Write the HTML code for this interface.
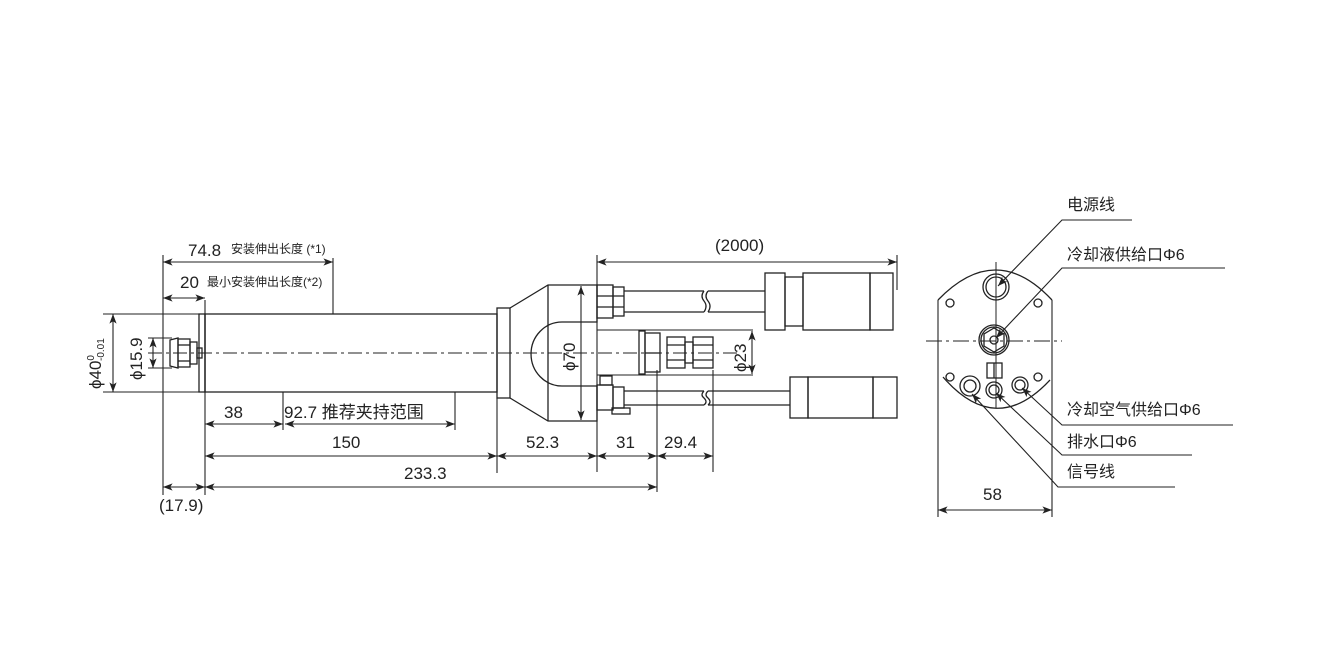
<!DOCTYPE html>
<html><head><meta charset="utf-8"><style>
html,body{margin:0;padding:0;background:#fff;}
svg{display:block;}
text{font-family:"Liberation Sans","Noto Sans CJK SC",sans-serif;fill:#222;}
</style></head><body>
<svg width="1320" height="660" viewBox="0 0 1320 660" xmlns="http://www.w3.org/2000/svg">
<defs>
<marker id="a" viewBox="0 0 12 10" refX="12" refY="5" markerWidth="12" markerHeight="8" orient="auto-start-reverse" markerUnits="userSpaceOnUse"><path d="M0,0.5 L12,5 L0,9.5 L3,5 Z" fill="#222"/></marker>
</defs>
<g stroke="#222" stroke-width="1.3" fill="none">
<line x1="148" y1="353" x2="740" y2="353" stroke-dasharray="14,4,3,4" stroke-width="1"/>
<path d="M170 340 L178 338 L178 368 L170 366 Z"/>
<rect x="178" y="339" width="12" height="28"/>
<rect x="190" y="342" width="7" height="22"/>
<rect x="197" y="348" width="5" height="10"/>
<line x1="178" y1="345" x2="190" y2="345"/><line x1="178" y1="361" x2="190" y2="361"/>
<rect x="199" y="314" width="6" height="78"/>
<rect x="205" y="314" width="292" height="78"/>
<rect x="497" y="308" width="13" height="90"/>
<path d="M510 308 L548 285 L597 285 L597 322 L562 322 A30 31 0 0 0 562 386 L597 386 L597 421 L548 421 L510 398"/>
<line x1="548" y1="285" x2="548" y2="421"/>
<rect x="597" y="285" width="16" height="33"/><rect x="613" y="287" width="11" height="29"/>
<line x1="597" y1="296" x2="624" y2="296"/><line x1="597" y1="307" x2="624" y2="307"/>
<line x1="624" y1="291" x2="704" y2="291"/><line x1="624" y1="312" x2="704" y2="312"/>
<path d="M704 291 q-4 5 0 10 q4 5 0 11 M708 291 q-4 5 0 10 q4 5 0 11"/>
<line x1="708" y1="291" x2="765" y2="291"/><line x1="708" y1="312" x2="765" y2="312"/>
<rect x="765" y="273" width="20" height="57"/><rect x="785" y="277" width="18" height="49"/>
<rect x="803" y="273" width="67" height="57"/><rect x="870" y="273" width="23" height="57"/>
<line x1="597" y1="330" x2="753" y2="330" stroke-width="1"/><line x1="597" y1="375" x2="753" y2="375" stroke-width="1"/>
<rect x="639" y="331" width="6" height="43"/>
<rect x="645" y="333" width="15" height="39"/><line x1="645" y1="353" x2="660" y2="353"/>
<rect x="667" y="337" width="18" height="31"/><line x1="667" y1="345" x2="685" y2="345"/><line x1="667" y1="360" x2="685" y2="360"/>
<rect x="685" y="342" width="8" height="21"/>
<rect x="693" y="337" width="20" height="31"/><line x1="693" y1="345" x2="713" y2="345"/><line x1="693" y1="360" x2="713" y2="360"/>
<rect x="600" y="376" width="12" height="9"/>
<rect x="597" y="385" width="16" height="25"/><rect x="613" y="387" width="11" height="21"/>
<rect x="612" y="408" width="18" height="6"/>
<line x1="624" y1="391" x2="704" y2="391"/><line x1="624" y1="405" x2="704" y2="405"/>
<path d="M704 391 q-4 4 0 7 q4 4 0 7 M708 391 q-4 4 0 7 q4 4 0 7"/>
<line x1="708" y1="391" x2="790" y2="391"/><line x1="708" y1="405" x2="790" y2="405"/>
<rect x="790" y="377" width="18" height="41"/><rect x="808" y="377" width="65" height="41"/><rect x="873" y="377" width="24" height="41"/>
</g>
<g stroke="#222" stroke-width="1.1" fill="none">
<line x1="163" y1="255" x2="163" y2="495"/>
<line x1="333" y1="258" x2="333" y2="314"/>
<line x1="205" y1="300" x2="205" y2="495"/>
<line x1="163" y1="262" x2="333" y2="262" marker-start="url(#a)" marker-end="url(#a)"/>
<line x1="163" y1="298" x2="205" y2="298" marker-start="url(#a)" marker-end="url(#a)"/>
<line x1="103" y1="314" x2="199" y2="314"/><line x1="103" y1="392" x2="199" y2="392"/>
<line x1="113" y1="314" x2="113" y2="392" marker-start="url(#a)" marker-end="url(#a)"/>
<line x1="148" y1="338" x2="172" y2="338"/><line x1="148" y1="368" x2="172" y2="368"/>
<line x1="153" y1="338" x2="153" y2="368" marker-start="url(#a)" marker-end="url(#a)"/>
<line x1="283" y1="392" x2="283" y2="430"/><line x1="455" y1="392" x2="455" y2="430"/>
<line x1="205" y1="424" x2="283" y2="424" marker-start="url(#a)" marker-end="url(#a)"/>
<line x1="285" y1="424" x2="455" y2="424" marker-start="url(#a)" marker-end="url(#a)"/>
<line x1="497" y1="398" x2="497" y2="473"/>
<line x1="205" y1="456" x2="497" y2="456" marker-start="url(#a)" marker-end="url(#a)"/>
<line x1="497" y1="456" x2="597" y2="456" marker-start="url(#a)" marker-end="url(#a)"/>
<line x1="597" y1="255" x2="597" y2="472"/>
<line x1="657" y1="370" x2="657" y2="492"/><line x1="713" y1="370" x2="713" y2="472"/>
<line x1="597" y1="456" x2="657" y2="456" marker-start="url(#a)" marker-end="url(#a)"/>
<line x1="657" y1="456" x2="713" y2="456" marker-start="url(#a)" marker-end="url(#a)"/>
<line x1="205" y1="487" x2="657" y2="487" marker-start="url(#a)" marker-end="url(#a)"/>
<line x1="163" y1="487" x2="205" y2="487" marker-start="url(#a)" marker-end="url(#a)"/>
<line x1="581" y1="286" x2="581" y2="420" marker-start="url(#a)" marker-end="url(#a)"/>
<line x1="752" y1="331" x2="752" y2="374" marker-start="url(#a)" marker-end="url(#a)"/>
<line x1="897" y1="255" x2="897" y2="290"/>
<line x1="597" y1="262" x2="897" y2="262" marker-start="url(#a)" marker-end="url(#a)"/>
</g>
<g font-size="17">
<text x="188" y="256">74.8</text><text x="231" y="253" font-size="12">安装伸出长度 (*1)</text>
<text x="180" y="288">20</text><text x="207" y="286" font-size="12">最小安装伸出长度(*2)</text>
<text x="224" y="418">38</text>
<text x="284" y="418">92.7 推荐夹持范围</text>
<text x="332" y="448">150</text>
<text x="526" y="448">52.3</text>
<text x="616" y="448">31</text>
<text x="664" y="448">29.4</text>
<text x="404" y="479">233.3</text>
<text x="159" y="511">(17.9)</text>
<text x="715" y="251">(2000)</text>
<text transform="translate(101,389) rotate(-90)">ϕ40<tspan font-size="10" dy="-7">0</tspan><tspan font-size="10" dx="-6" dy="10">-0.01</tspan></text>
<text transform="translate(142,380) rotate(-90)">ϕ15.9</text>
<text transform="translate(575,371) rotate(-90)">ϕ70</text>
<text transform="translate(746,372) rotate(-90)">ϕ23</text>
</g>
<g stroke="#222" stroke-width="1.3" fill="none">
<line x1="938" y1="300" x2="938" y2="517" stroke-width="1.1"/>
<line x1="1052" y1="300" x2="1052" y2="517" stroke-width="1.1"/>
<path d="M938 300 Q996 240 1052 300"/>
<path d="M943 377 Q996 438 1050 380"/>
<circle cx="950" cy="303" r="4"/><circle cx="1038" cy="303" r="4"/>
<circle cx="950" cy="377" r="4"/><circle cx="1038" cy="377" r="4"/>
<circle cx="996" cy="287" r="13"/><circle cx="996" cy="287" r="10"/>
<circle cx="994" cy="340" r="15"/><circle cx="994" cy="340" r="13"/>
<path d="M994 328 L1004 334 L1004 346 L994 352 L984 346 L984 334 Z"/>
<circle cx="994" cy="340" r="4"/>
<rect x="987" y="363" width="15" height="15"/><line x1="994" y1="363" x2="994" y2="378"/>
<circle cx="970" cy="386" r="10"/><circle cx="970" cy="386" r="6"/>
<circle cx="994" cy="390" r="8"/><circle cx="994" cy="390" r="5"/>
<circle cx="1020" cy="385" r="8"/><circle cx="1020" cy="385" r="5"/>
<line x1="926" y1="341" x2="1062" y2="341" stroke-dasharray="16,4,3,4" stroke-width="1"/>
<line x1="996" y1="262" x2="996" y2="408" stroke-width="1"/>
</g>
<g stroke="#222" stroke-width="1.1" fill="none">
<polyline points="1132,220 1062,220 998,286" marker-end="url(#a)"/>
<polyline points="1225,268 1062,268 996,338" marker-end="url(#a)"/>
<polyline points="1233,425 1062,425 1022,388" marker-end="url(#a)"/>
<polyline points="1192,455 1062,455 996,393" marker-end="url(#a)"/>
<polyline points="1175,487 1058,487 972,394" marker-end="url(#a)"/>
<line x1="938" y1="510" x2="1052" y2="510" marker-start="url(#a)" marker-end="url(#a)"/>
</g>
<g font-size="16">
<text x="1067" y="210">电源线</text>
<text x="1067" y="260">冷却液供给口Φ6</text>
<text x="1067" y="415">冷却空气供给口Φ6</text>
<text x="1067" y="447">排水口Φ6</text>
<text x="1067" y="477">信号线</text>
<text x="983" y="500" font-size="17">58</text>
</g>
</svg>
</body></html>
